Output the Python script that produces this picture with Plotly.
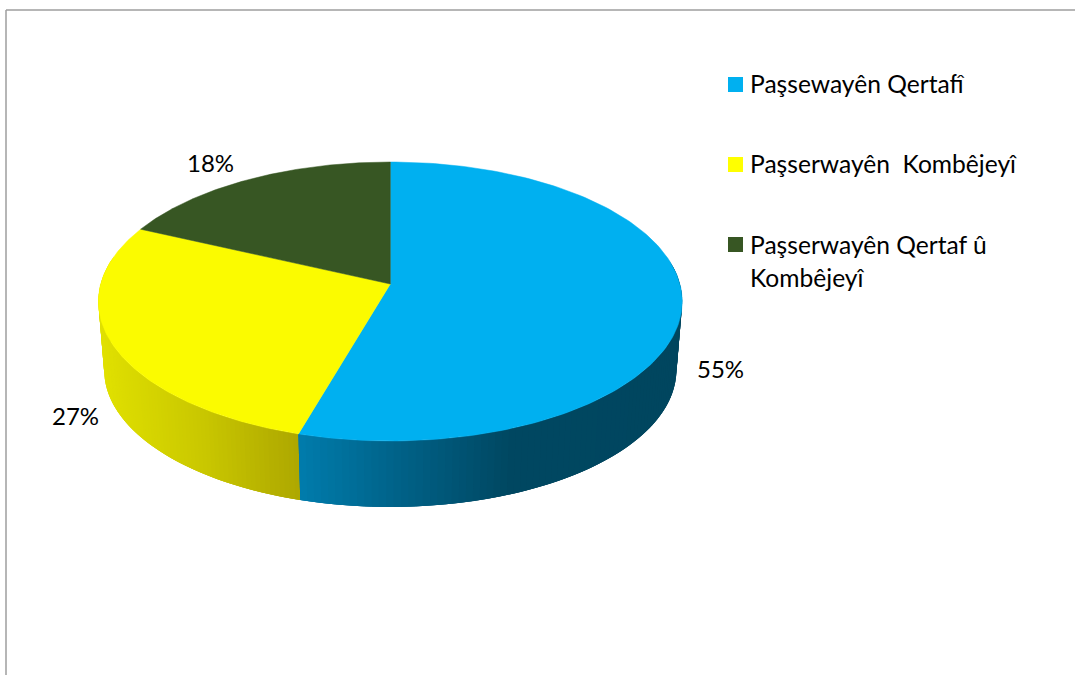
import numpy as np
import plotly.graph_objects as go

categories = ["Paşsewayên Qertafî", "Paşserwayên  Kombêjeyî", "Paşserwayên Qertaf û Kombêjeyî"]
values = [54.5, 27.4, 18.1]
percent_labels = ["55%", "27%", "18%"]
top_colors = ["#00B0F0", "#FBFB00", "#375623"]
legend_colors = ["#00B0F0", "#FFFF00", "#375623"]

W, H = 1075, 675
FONT = "Lato, Carlito, sans-serif"
FS_LEGEND = 24.6
FS_LABEL = 24
CX, CY = 390.3, 284.0      # projected centre of the disc
K, A, C = 289.6, 137.3, 0.1254  # perspective projection of the disc
WALL_SCALE, WALL_DY = 0.98, 69.1


def top_pt(t):
    u, v = np.sin(t), np.cos(t)
    d = 1 + C * v
    return CX + K * u / d, CY - A * v / d


def bottom_pt(t):
    x, y = top_pt(t)
    return CX + (x - CX) * WALL_SCALE, CY + (y - CY) * WALL_SCALE + WALL_DY


def lerp_color(x, stops):
    xs = [s[0] for s in stops]
    return "rgb(%d,%d,%d)" % tuple(np.interp(x, xs, [s[1][i] for s in stops]) for i in range(3))


wall_stops = {
    0: [(300, (0, 124, 172)), (400, (0, 98, 136)), (510, (0, 72, 98)), (690, (0, 70, 95))],
    1: [(95, (226, 226, 0)), (200, (202, 200, 0)), (298, (174, 168, 0))],
}

total = sum(values)
edges = np.cumsum([0] + values) / total * 2 * np.pi

fig = go.Figure()

# side wall: bands coloured by horizontal position, each overlapped by the next to hide seams
for i in (1, 0):
    start = max(edges[i], np.radians(80))
    end = min(edges[i + 1], np.radians(282))
    steps = np.linspace(start, end, 91)
    order = range(len(steps) - 1) if i == 0 else range(len(steps) - 2, -1, -1)
    for k in order:
        if i == 0:
            a, b = steps[k], steps[min(k + 3, len(steps) - 1)]
        else:
            a, b = steps[max(k - 2, 0)], steps[k + 1]
        ts = np.linspace(a, b, 7)
        tx, ty = top_pt(ts)
        bx, by = bottom_pt(ts[::-1])
        col = lerp_color(float(np.mean(top_pt(steps[k:k + 2])[0])), wall_stops[i])
        fig.add_trace(go.Scatter(
            x=np.r_[tx, bx, tx[0]], y=np.r_[ty, by, ty[0]], mode="lines", fill="toself",
            fillcolor=col, line=dict(width=0), hoverinfo="skip", showlegend=False))

# top face
for i, name in enumerate(categories):
    ts = np.linspace(edges[i], edges[i + 1], 160)
    x, y = top_pt(ts)
    fig.add_trace(go.Scatter(
        x=np.r_[CX, x, CX], y=np.r_[CY, y, CY], mode="lines", fill="toself", name=name,
        fillcolor=top_colors[i], line=dict(color=top_colors[i], width=0.5), showlegend=False,
        hovertemplate=name + ": " + percent_labels[i] + "<extra></extra>"))

annotations = []
label_pos = [(720, 368), (75, 415), (210, 162)]
for txt, (x, y) in zip(percent_labels, label_pos):
    annotations.append(dict(x=x, y=y, text=txt, showarrow=False, xanchor="center", yanchor="middle",
                            font=dict(family=FONT, size=FS_LABEL, color="#000000")))

legend_lines = [(categories[0], 83, 0), (categories[1], 163, 1),
                ("Paşserwayên Qertaf û", 244, 2), ("Kombêjeyî", 277, None)]
swatch_y = {0: 84.5, 1: 164.5, 2: 244.5}
shapes = [
    dict(type="line", x0=6, x1=W, y0=10, y1=10, line=dict(color="#9E9E9E", width=1.5)),
    dict(type="line", x0=6, x1=6, y0=10, y1=H, line=dict(color="#9E9E9E", width=1.5)),
]
for txt, y, ci in legend_lines:
    annotations.append(dict(x=748, y=y, text=txt, showarrow=False, xanchor="left", yanchor="middle",
                            font=dict(family=FONT, size=FS_LEGEND, color="#000000")))
    if ci is not None:
        shapes.append(dict(type="rect", x0=728, x1=743, y0=swatch_y[ci] - 7.5, y1=swatch_y[ci] + 7.5,
                           fillcolor=legend_colors[ci], line=dict(width=0)))

fig.update_layout(
    width=W, height=H, autosize=False, margin=dict(l=0, r=0, t=0, b=0),
    paper_bgcolor="white", plot_bgcolor="white", showlegend=False,
    xaxis=dict(range=[0, W], visible=False, fixedrange=True),
    yaxis=dict(range=[H, 0], visible=False, fixedrange=True),
    annotations=annotations, shapes=shapes,
)
fig.write_html("out.html", config=dict(displayModeBar=False),
               post_script="document.body.style.margin='0';document.body.style.overflow='hidden';")
